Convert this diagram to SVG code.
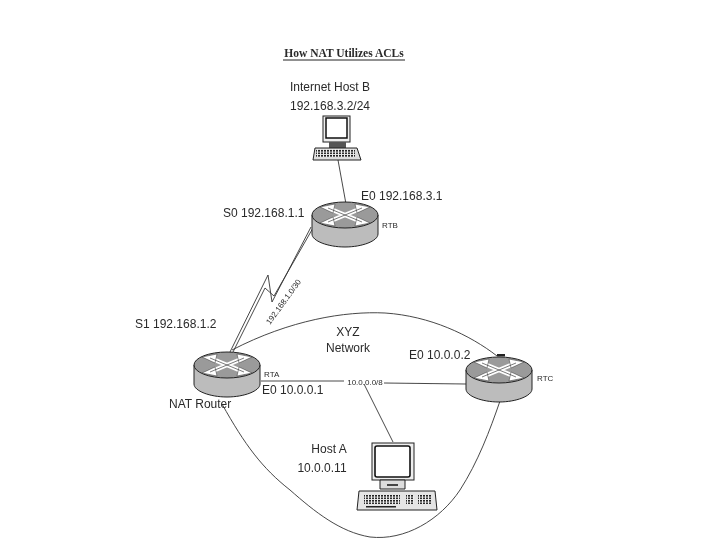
<svg xmlns="http://www.w3.org/2000/svg" width="720" height="540" viewBox="0 0 720 540">
<style>
text{font-family:"Liberation Sans",Arial,sans-serif;fill:#2a2a2a;font-size:12px}
.m{text-anchor:middle}
.s{font-size:8px}
.t{font-family:"Liberation Serif","Times New Roman",serif;font-weight:bold;font-size:11.5px}
.c{fill:none;stroke:#333;stroke-width:.9}
</style>
<defs>
<filter id="scan" x="-5%" y="-5%" width="110%" height="110%"><feGaussianBlur stdDeviation="0.35"/></filter>
<g id="router">
<path d="M-33 -9V10C-33 17-17 23 0 23S33 17 33 10V-9Z" fill="#bcbcbc" stroke="#222"/>
<ellipse cx="0" cy="-9" rx="33" ry="13" fill="#9a9a9a" stroke="#222"/>
<path d="M-17 -16L17 -2M17 -16L-17 -2" stroke="#fff" stroke-width="4.5"/>
<path d="M-25 -17L-10 -20L-12 -11ZM25 -17L10 -20L12 -11ZM-25 -1L-10 2L-12 -7ZM25 -1L10 2L12 -7Z" fill="#fff" stroke="#333" stroke-width=".5"/>
<path d="M-17 -16L17 -2M17 -16L-17 -2" stroke="#222" stroke-width=".6"/>
</g>
<pattern id="keys" width="3" height="2.5" patternUnits="userSpaceOnUse"><rect width="3" height="2.5" fill="#eee"/><rect width="2" height="1.6" fill="#222"/></pattern>
</defs>
<g filter="url(#scan)">
<g id="connectors">
<path class="c" d="M338 160L346 204"/>
<path class="c" d="M230 352L268 275L272 302L311 227"/>
<path class="c" d="M233 352L265 288L274 296L313 228"/>
<path class="c" d="M232 350C290 320 345 311 385 313C430 316 470 335 497 356"/>
<path class="c" d="M222 404C245 445 262 468 290 490C315 512 340 532 370 537C405 541 440 520 460 490C478 462 490 430 500 401"/>
<path class="c" d="M261 381H344M384 383L466 384"/>
<path class="c" d="M364 384L393 442"/>
</g>
<g id="title"><text class="t m" x="344" y="57">How NAT Utilizes ACLs</text><path d="M283 60H405" stroke="#222"/></g>
<g id="host-b">
<text class="m" x="330" y="91">Internet Host B</text>
<text class="m" x="330" y="110">192.168.3.2/24</text>
<rect x="323" y="116" width="27" height="26" fill="#eee" stroke="#222"/>
<rect x="326" y="118" width="21" height="20" fill="#fff" stroke="#111" stroke-width="1.5"/>
<rect x="329" y="142" width="17" height="6" fill="#555"/>
<path d="M315 148H357L361 160H313Z" fill="#ddd" stroke="#222"/>
<rect x="316" y="149" width="39" height="8" fill="url(#keys)"/>
</g>
<g id="rtb">
<use href="#router" x="345" y="224"/>
<text class="s" x="382" y="228">RTB</text>
<text x="361" y="200">E0 192.168.3.1</text>
<text x="223" y="217">S0 192.168.1.1</text>
</g>
<g id="rta">
<use href="#router" x="227" y="374"/>
<text class="s" x="264" y="377">RTA</text>
<text x="135" y="328">S1 192.168.1.2</text>
<text x="262" y="394">E0 10.0.0.1</text>
<text x="169" y="408">NAT Router</text>
</g>
<g id="rtc">
<use href="#router" x="499" y="379"/>
<rect x="497" y="354" width="8" height="2.5" fill="#222"/>
<text class="s" x="537" y="381">RTC</text>
<text x="409" y="359">E0 10.0.0.2</text>
</g>
<g id="xyz"><text class="m" x="348" y="336">XYZ</text><text class="m" x="348" y="352">Network</text></g>
<g id="labels">
<text class="s" transform="translate(270 325) rotate(-54)">192.168.1.0/30</text>
<text class="s m" x="365" y="385">10.0.0.0/8</text>
</g>
<g id="host-a">
<text class="m" x="329" y="453">Host A</text>
<text class="m" x="322" y="472">10.0.0.11</text>
<rect x="372" y="443" width="42" height="37" fill="#eee" stroke="#222"/>
<rect x="375" y="446" width="35" height="31" fill="#fff" stroke="#111" stroke-width="1.6" rx="2"/>
<path d="M380 480H405V489H380Z" fill="#ddd" stroke="#222"/>
<rect x="387" y="484" width="11" height="2" fill="#444"/>
<path d="M359 491H435L437 510H357Z" fill="#e4e4e4" stroke="#222"/>
<rect x="364" y="495" width="36" height="9" fill="url(#keys)"/>
<rect x="406" y="495" width="8" height="9" fill="url(#keys)"/>
<rect x="418" y="495" width="13" height="9" fill="url(#keys)"/>
<rect x="366" y="506" width="30" height="1.5" fill="#222"/>
</g>
</g>
</svg>
